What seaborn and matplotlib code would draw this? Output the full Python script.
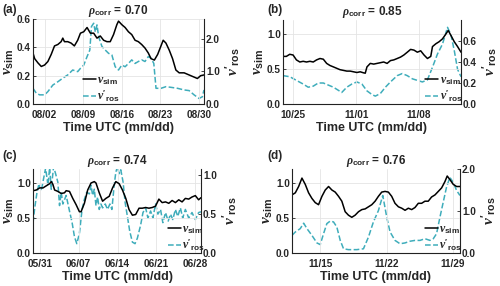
import numpy as np
import pandas as pd
import matplotlib
matplotlib.use("Agg")
import matplotlib.pyplot as plt
import matplotlib.dates as mdates
import seaborn as sns

# ---------------- data ----------------
# panel (a): days relative to 08/02
a_ref = "2019-08-02"
a_sim_days = [-2.1,-1.8,-1.2,-0.6,0,0.6,1.2,1.8,2.4,3.0,3.3,3.6,4.2,4.8,5.4,6.0,6.5,7.1,7.7,8.3,
              8.9,9.5,10.1,10.7,11.3,11.9,12.5,13.1,13.4,14.0,14.6,15.2,15.8,16.4,17.0,17.6,18.2,18.8,19.3,19.9,
              20.5,21.1,21.5,22.0,22.6,23.2,23.8,24.4,25.3,26.2,27.1,27.7,28.3,28.9]
a_sim = [0.36,0.32,0.29,0.265,0.275,0.30,0.35,0.41,0.42,0.44,0.465,0.44,0.44,0.43,0.41,0.45,0.50,0.51,0.54,0.50,
         0.50,0.465,0.48,0.45,0.44,0.44,0.49,0.56,0.585,0.56,0.54,0.51,0.49,0.45,0.44,0.42,0.395,0.36,0.32,0.31,
         0.35,0.41,0.45,0.43,0.38,0.32,0.24,0.22,0.22,0.205,0.19,0.18,0.20,0.205]
a_ros_days = [-2.1,-1.5,-0.9,0,0.6,1.5,2.4,3.3,4.2,5.1,6.0,6.5,7.1,7.7,8.2,8.5,8.9,9.2,9.5,9.8,
              10.4,11.0,11.6,12.2,12.8,13.4,14.0,14.6,15.2,15.8,16.4,17.0,17.6,18.2,18.8,19.3,19.8,20.2,21.1,22.0,
              22.9,24.1,25.3,26.2,27.1,28.0,28.6,28.9]
a_ros = [0.48,0.33,0.28,0.28,0.38,0.58,0.68,0.79,0.89,1.04,0.99,1.09,1.19,1.45,1.65,2.37,2.47,2.2,2.42,2.06,
         1.76,1.65,1.55,1.5,1.14,1.04,1.19,1.14,1.24,1.35,1.24,1.3,1.35,1.3,1.45,1.4,1.24,0.48,0.48,0.53,
         0.51,0.48,0.43,0.41,0.28,0.17,0.22,0.43]
a_ticks = ["2019-08-02", "2019-08-09", "2019-08-16", "2019-08-23", "2019-08-30"]

# panel (b): days relative to 10/25
b_ref = "2019-10-25"
b_sim_days = [-1.12,-0.75,-0.37,0,0.37,0.75,1.12,1.49,1.87,2.24,2.61,2.99,3.36,3.73,4.10,4.48,4.85,5.22,5.60,5.97,
              6.34,6.72,7.09,7.46,7.84,8.02,8.21,8.58,8.96,9.33,9.70,10.07,10.45,10.82,11.19,11.57,11.94,12.31,12.69,13.06,
              13.43,13.81,14.18,14.55,14.93,15.30,15.49,15.86,16.23,16.60,16.98,17.24,17.54,17.91,18.28,18.66]
b_sim = [0.68,0.68,0.71,0.70,0.63,0.60,0.61,0.60,0.61,0.60,0.63,0.65,0.64,0.58,0.55,0.53,0.51,0.49,0.48,0.47,
         0.47,0.46,0.45,0.46,0.445,0.44,0.53,0.58,0.57,0.58,0.59,0.60,0.58,0.62,0.63,0.65,0.67,0.70,0.74,0.78,
         0.77,0.74,0.76,0.70,0.65,0.68,0.82,0.86,0.89,0.93,1.00,1.05,0.98,0.89,0.82,0.74]
b_ros_days = [-1.12,-0.37,0.37,1.12,1.68,2.24,2.80,3.36,3.92,4.48,5.04,5.41,5.97,6.53,7.09,7.65,8.21,8.77,9.14,9.70,
              10.26,10.82,11.57,12.13,12.69,13.25,13.81,14.37,14.93,15.49,16.04,16.60,17.16,17.54,17.91,18.28,18.66]
b_ros = [0.27,0.26,0.225,0.19,0.16,0.17,0.20,0.20,0.18,0.16,0.13,0.11,0.16,0.19,0.21,0.19,0.125,0.09,0.075,0.10,
         0.16,0.21,0.27,0.29,0.27,0.24,0.225,0.21,0.23,0.35,0.475,0.57,0.73,0.66,0.51,0.33,0.26]
b_ticks = ["2019-10-25", "2019-11-01", "2019-11-08"]

# panel (c): days relative to 05/31
c_ref = "2019-05-31"
c_sim_days = [-1.19,-0.60,0,0.60,1.19,1.79,2.08,2.38,2.68,3.27,3.87,4.46,4.76,5.36,5.95,6.55,7.14,7.44,8.04,8.63,
              9.23,9.82,10.12,10.71,11.31,11.90,12.50,13.10,13.69,14.29,14.88,15.48,16.07,16.67,17.26,17.86,18.45,19.05,19.64,20.24,
              20.83,21.43,22.02,22.62,23.21,23.81,24.40,25.00,25.60,26.19,26.79,27.38,27.98,28.57,28.99]
c_sim = [0.89,0.90,0.93,0.93,0.96,0.99,1.02,0.98,0.90,0.88,0.85,0.86,0.89,0.88,0.78,0.69,0.59,0.59,0.71,0.90,
         1.00,1.02,1.00,0.86,0.74,0.78,0.81,0.93,1.02,0.99,0.90,0.78,0.62,0.54,0.55,0.64,0.64,0.65,0.64,0.65,
         0.67,0.77,0.72,0.73,0.71,0.75,0.72,0.76,0.73,0.78,0.77,0.80,0.82,0.76,0.79]
c_ros_days = [-1.19,-0.89,-0.48,-0.12,0.30,0.71,1.07,1.49,1.79,2.08,2.50,2.86,3.27,3.57,3.87,4.17,4.76,5.36,5.83,6.25,
              6.67,7.14,7.62,8.04,8.45,8.93,9.23,9.52,9.82,10.12,10.42,10.71,11.01,11.31,11.79,12.20,12.62,12.98,13.39,13.69,
              13.99,14.29,14.58,15.00,15.36,15.77,16.19,16.67,17.14,17.56,18.15,18.57,19.05,19.46,19.94,20.36,20.83,21.25,21.73,22.14,
              22.62,23.10,23.51,23.93,24.40,24.82,25.30,25.71,26.19,26.79,27.38,27.98,28.57,28.99]
c_ros = [0.39,0.58,0.78,0.89,0.80,0.96,1.09,0.87,1.10,0.82,1.11,1.02,0.91,0.61,0.78,0.63,0.74,0.54,0.39,0.21,
         0.12,0.25,0.56,0.69,0.78,0.76,0.87,0.74,0.82,0.61,0.72,0.56,0.63,0.58,0.63,0.56,0.63,0.56,0.87,1.04,
         1.11,1.02,1.07,0.91,0.65,0.47,0.28,0.14,0.12,0.19,0.36,0.52,0.58,0.45,0.54,0.45,0.63,0.50,0.56,0.39,
         0.52,0.41,0.50,0.43,0.56,0.47,0.58,0.45,0.56,0.45,0.52,0.43,0.52,0.53]
c_ticks = ["2019-05-31", "2019-06-07", "2019-06-14", "2019-06-21", "2019-06-28"]

# panel (d): days relative to 11/15
d_ref = "2019-11-15"
d_sim_days = [-2.98,-2.63,-2.28,-1.93,-1.58,-1.23,-0.88,-0.53,-0.18,0.18,0.53,0.88,1.23,1.58,1.93,2.28,2.63,2.98,3.33,3.68,
              4.04,4.39,4.74,5.09,5.44,5.79,6.14,6.49,6.84,7.19,7.54,7.89,8.25,8.60,8.95,9.30,9.65,10.0,10.35,10.70,
              11.05,11.40,11.75,12.11,12.46,12.81,13.16,13.40,13.68,14.04,14.39,14.74]
d_sim = [0.83,0.86,0.95,1.07,0.98,0.86,0.78,0.72,0.69,0.81,0.90,0.95,0.90,0.87,0.81,0.74,0.59,0.54,0.51,0.54,
         0.59,0.62,0.63,0.66,0.69,0.74,0.81,0.87,0.88,0.87,0.81,0.71,0.66,0.64,0.61,0.64,0.62,0.65,0.71,0.71,
         0.74,0.74,0.80,0.83,0.88,0.93,1.02,1.10,1.05,0.98,0.95,0.95]
d_ros_days = [-2.98,-2.63,-2.11,-1.75,-1.40,-0.88,-0.35,0,0.35,0.70,1.05,1.40,1.75,2.11,2.46,2.98,3.86,4.56,5.09,5.61,
              6.14,6.60,7.02,7.37,7.89,8.42,8.95,9.47,10.0,10.53,11.05,11.58,11.93,12.28,12.63,12.98,13.33,13.68,14.04,14.39,
              14.74]
d_ros = [0.42,0.50,0.58,0.71,0.58,0.42,0.24,0.20,0.46,0.70,0.76,0.74,0.62,0.30,0.10,0.08,0.08,0.10,0.38,0.74,
         1.01,1.37,0.85,0.50,0.30,0.22,0.24,0.28,0.30,0.30,0.34,0.30,0.34,0.46,0.85,1.21,1.57,1.80,1.68,1.49,
         1.37]
d_ticks = ["2019-11-15", "2019-11-22", "2019-11-29"]

panel_letters = ["(a)", "(b)", "(c)", "(d)"]
corr_values = ["0.70", "0.85", "0.74", "0.76"]
left_ticks = [[0.0, 0.2, 0.4, 0.6], [0.0, 0.5, 1.0], [0.0, 0.5, 1.0], [0.0, 0.5, 1.0]]
right_ticks = [[0.0, 1.0, 2.0], [0.0, 0.2, 0.4, 0.6], [0.0, 0.5, 1.0], [0.0, 1.0, 2.0]]
left_lims = [(0, 0.6), (0, 1.2), (0, 1.2), (0, 1.2)]
right_lims = [(0, 2.6), (0, 0.8), (0, 1.08), (0, 2.0)]

# ---------------- style ----------------
sns.set_theme(style="white")
plt.rcParams["font.family"] = ["Liberation Sans", "DejaVu Sans"]
plt.rcParams["font.weight"] = "bold"
plt.rcParams["mathtext.fontset"] = "custom"
plt.rcParams["mathtext.rm"] = "Liberation Sans:bold"
plt.rcParams["mathtext.bf"] = "Liberation Sans:bold"
plt.rcParams["mathtext.it"] = "Liberation Serif:italic"

TEAL = "#3fadbb"

fig = plt.figure(figsize=(5.0, 2.86), dpi=100)
W, H = 500, 286

# axes rectangles in pixels: left, top, right, bottom
rects = [(33, 19, 204, 104), (283, 20, 461, 104), (33, 169, 201, 253), (292, 169, 460, 253)]
xlims = [(-2.1, 28.9), (-1.12, 18.66), (-1.2, 29.0), (-2.98, 14.75)]
legend_x = [0.27, 0.78, 0.78, 0.77]
letter_pos = [(2, 10), (267, 10), (2, 156), (267, 156)]

panels = [
    (a_ref, a_sim_days, a_sim, a_ros_days, a_ros, a_ticks),
    (b_ref, b_sim_days, b_sim, b_ros_days, b_ros, b_ticks),
    (c_ref, c_sim_days, c_sim, c_ros_days, c_ros, c_ticks),
    (d_ref, d_sim_days, d_sim, d_ros_days, d_ros, d_ticks),
]

for i, (ref, sd, sv, rd, rv, ticks) in enumerate(panels):
    l, t, r, b = rects[i]
    ax = fig.add_axes([l / W, 1 - b / H, (r - l) / W, (b - t) / H])
    ax2 = ax.twinx()
    base = pd.Timestamp(ref)
    df_sim = pd.DataFrame({"time": base + pd.to_timedelta(sd, unit="D"), "v": sv})
    df_ros = pd.DataFrame({"time": base + pd.to_timedelta(rd, unit="D"), "v": rv})

    sns.lineplot(data=df_sim, x="time", y="v", ax=ax, color="black", lw=1.1,
                 label=r"$\nu_{\rm sim}$", legend=False)
    sns.lineplot(data=df_ros, x="time", y="v", ax=ax2, color=TEAL, lw=1.1,
                 linestyle="--", label=r"$\nu'_{\rm ros}$", legend=False)

    ax.set_zorder(ax2.get_zorder() + 1)
    ax.patch.set_visible(False)

    x0 = base + pd.to_timedelta(xlims[i][0], unit="D")
    x1 = base + pd.to_timedelta(xlims[i][1], unit="D")
    ax.set_xlim(x0, x1)
    ax.set_xticks(pd.to_datetime(ticks))
    ax.xaxis.set_major_formatter(mdates.DateFormatter("%m/%d"))

    ax.set_ylim(*left_lims[i])
    ax.set_yticks(left_ticks[i])
    ax.set_yticklabels([f"{v:.1f}" for v in left_ticks[i]])
    ax2.set_ylim(*right_lims[i])
    ax2.set_yticks(right_ticks[i])
    ax2.set_yticklabels([f"{v:.1f}" for v in right_ticks[i]])

    ax.grid(True, color="#e4e4e4", lw=0.6)
    ax2.grid(False)
    for a in (ax, ax2):
        a.spines["top"].set_visible(False)
        for s in ("left", "right", "bottom"):
            a.spines[s].set_color("#222222")
            a.spines[s].set_linewidth(0.8)
        a.tick_params(axis="y", labelsize=7.2, length=2, width=0.6, pad=1.5, direction="in")
    ax.tick_params(axis="x", labelsize=7.2, length=2, width=0.6, pad=4, direction="in")
    ax.spines["right"].set_visible(False)
    ax2.spines["left"].set_visible(False)
    ax2.spines["bottom"].set_visible(False)

    ax.set_xlabel("Time UTC (mm/dd)", fontsize=9, fontweight="bold", labelpad=1.5)
    ax.set_ylabel(r"$\nu_{\rm sim}$", fontsize=11, labelpad=1)
    ax2.set_ylabel(r"$\nu'_{\rm ros}$", fontsize=11, labelpad=2, rotation=90)
    ax.set_title(r"$\rho_{\rm corr}$ = " + corr_values[i], fontsize=8.5,
                 fontweight="bold", pad=2)
    lx, ly = letter_pos[i]
    fig.text(lx / W, 1 - ly / H, panel_letters[i], fontsize=8.5,
             fontweight="bold", va="center", ha="left")

    h1 = ax.get_lines()[0]
    h2 = ax2.get_lines()[0]
    ax.legend([h1, h2], [r"$\nu_{\rm sim}$", r"$\nu'_{\rm ros}$"], loc="lower left",
              bbox_to_anchor=(legend_x[i], -0.04), frameon=False, fontsize=8.5,
              handlelength=1.1, handletextpad=0.1, borderpad=0.1, labelspacing=0.05,
              borderaxespad=0.2)

fig.savefig("out.png", dpi=100)
